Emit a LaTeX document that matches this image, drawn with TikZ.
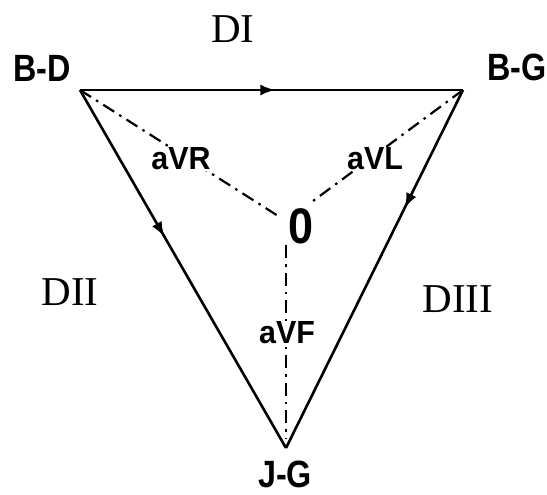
\documentclass[tikz,border=0pt]{standalone}
\usepackage{fontspec}
\setmainfont{Liberation Serif}
\newfontfamily\lblfont{Liberation Sans}
\usetikzlibrary{arrows.meta,decorations.markings}
\begin{document}
\begin{tikzpicture}[x=1pt,y=-1pt,
  side/.style={line width=2.6pt},
  midarrow/.style={postaction={decorate},decoration={markings,
      mark=at position #1 with {\arrow{Latex[length=15pt,width=11pt]}}}},
  lead/.style={line width=2.2pt,dash pattern=on 13pt off 6pt on 2.5pt off 6pt},
  vlabel/.style={font=\lblfont\bfseries\fontsize{38}{38}\selectfont,inner sep=0pt,xscale=0.85},
  alabel/.style={font=\lblfont\bfseries\fontsize{32}{32}\selectfont,inner sep=1pt,fill=white,xscale=0.95},
  dlabel/.style={font=\fontsize{41}{41}\selectfont,inner sep=0pt}]
\useasboundingbox (0,0) rectangle (547,495);
\fill[white] (0,0) rectangle (547,495);
\coordinate (BD) at (80,90);
\coordinate (BG) at (463,90);
\coordinate (JG) at (286,448);
\coordinate (O) at (286,221);
% leads
\draw[lead, shorten >=6pt] (BD) -- (O);
\draw[lead, shorten >=30pt] (BG) -- (O);
\draw[lead, shorten <=24pt, shorten >=10pt] (O) -- (JG);
% triangle sides
\draw[side, midarrow=0.51] (BD) -- (BG);
\draw[side, midarrow=0.41] (BD) -- (JG);
\draw[side, midarrow=0.33] (BG) -- (JG);
% labels
\node[vlabel] (lBD) at (42,68) {B-D};
\node[vlabel] (lBG) at (517,67) {B-G};
\node[vlabel] (lJG) at (285,474) {J-G};
\node[alabel] (aVR) at (181,159) {aVR};
\node[alabel] (aVL) at (375,159) {aVL};
\node[alabel] (aVF) at (287,333) {aVF};
\node[font=\lblfont\bfseries\fontsize{50}{50}\selectfont,inner sep=0pt,xscale=0.9] (zero) at (301,226) {0};
\node[dlabel] (DI) at (233,29) {DI};
\node[dlabel] (DII) at (70,292) {DII};
\node[dlabel] (DIII) at (458,299) {DIII};
\end{tikzpicture}
\end{document}
